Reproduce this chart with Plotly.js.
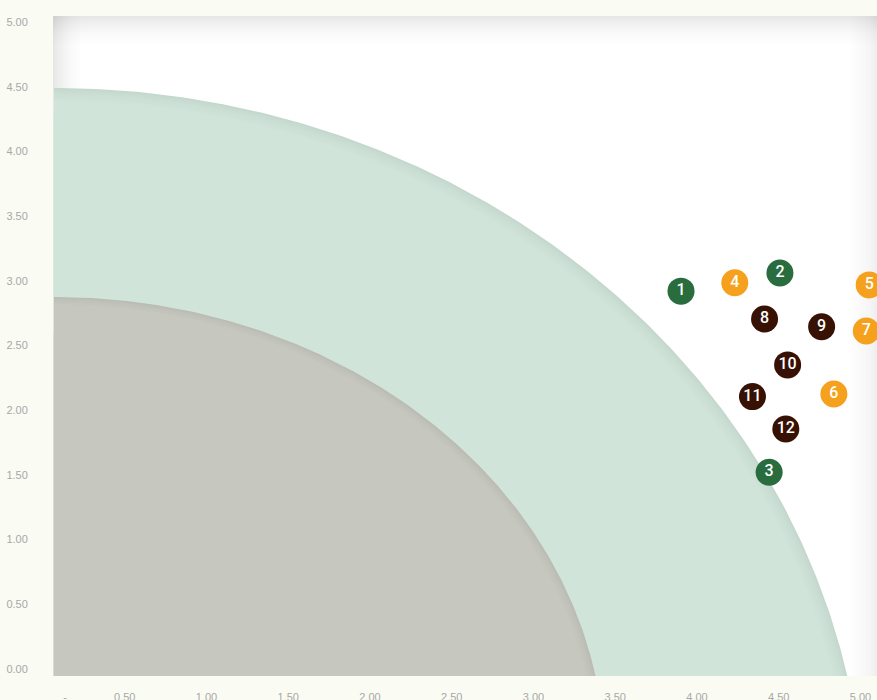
<!DOCTYPE html>
<html>
<head>
<meta charset="utf-8">
<script src="https://cdn.plot.ly/plotly-3.0.1.min.js"></script>
<style>
  html, body { margin: 0; padding: 0; background: #fafbf3; }
  #chart { width: 877px; height: 700px; }
</style>
</head>
<body>
<div id="chart"></div>
<script>
// ---- data ----
const xTickVals = [0, 0.5, 1, 1.5, 2, 2.5, 3, 3.5, 4, 4.5, 5];
const xTickText = ['\u2003\u2003\u2003\u2003-', '0.50', '1.00', '1.50', '2.00', '2.50', '3.00', '3.50', '4.00', '4.50', '5.00'];
const yTickVals = [0, 0.5, 1, 1.5, 2, 2.5, 3, 3.5, 4, 4.5, 5];
const yTickText = ['0.00', '0.50', '1.00', '1.50', '2.00', '2.50', '3.00', '3.50', '4.00', '4.50', '5.00'];

const greenLabels = ['1', '2', '3'];
const greenX = [3.835, 4.440, 4.374];
const greenY = [2.920, 3.060, 1.520];

const orangeLabels = ['4', '5', '6', '7'];
const orangeX = [4.164, 4.986, 4.770, 4.968];
const orangeY = [2.985, 2.968, 2.125, 2.612];

const brownLabels = ['8', '9', '10', '11', '12'];
const brownX = [4.346, 4.695, 4.487, 4.272, 4.476];
const brownY = [2.705, 2.645, 2.350, 2.105, 1.855];

// zones (quarter ellipses anchored on the y axis)
const zoneSemiX = [4.96, 3.368];
const zoneSemiY = [5.734, 3.578];
const zoneCenterY = [-1.244, -0.703];

// ---- styling / layout ----
const X_RANGE = [-0.006, 5.0337];
const Y_RANGE = [-0.054, 5.046];
const zoneRim = [[196, 216, 205], [186, 188, 179]];
const zoneMain = [[209, 228, 218], [198, 200, 192]];
const RIM_LAYERS = 8;

function zoneTrace(a, b, cy, color) {
  const ymin = Y_RANGE[0];
  const xs = [0, 0], ys = [ymin, cy + b];
  const tMin = Math.asin(Math.max(-1, Math.min(1, (ymin - cy) / b)));
  const N = 240;
  for (let i = 0; i <= N; i++) {
    const t = Math.PI / 2 - (Math.PI / 2 - tMin) * i / N;
    xs.push(a * Math.cos(t));
    ys.push(cy + b * Math.sin(t));
  }
  xs.push(0); ys.push(ymin);
  return {
    type: 'scatter', mode: 'lines', x: xs, y: ys,
    fill: 'toself', fillcolor: color, line: { width: 0, color: color },
    hoverinfo: 'skip', showlegend: false
  };
}

function mix(c1, c2, f) {
  return 'rgb(' + c1.map((v, i) => Math.round(v + (c2[i] - v) * f)).join(',') + ')';
}

const traces = [];
for (let z = 0; z < zoneSemiX.length; z++) {
  for (let k = 0; k < RIM_LAYERS; k++) {
    const f = k / (RIM_LAYERS - 1);
    const s = 1 - 0.0025 * k;
    traces.push(zoneTrace(zoneSemiX[z] * s, zoneSemiY[z] * s, zoneCenterY[z],
      mix(zoneRim[z], zoneMain[z], Math.pow(f, 0.7))));
  }
}

function pointTrace(xs, ys, labels, color) {
  return {
    type: 'scatter', mode: 'markers+text', x: xs, y: ys, text: labels,
    textposition: 'middle center',
    textfont: { family: 'Roboto, Liberation Sans, Arial, sans-serif', size: 16, color: '#ffffff', weight: 500 },
    marker: { size: 27, color: color, line: { width: 0 } },
    hoverinfo: 'skip', showlegend: false, cliponaxis: false
  };
}
traces.push(pointTrace(greenX, greenY, greenLabels, '#296c3d'));
traces.push(pointTrace(orangeX, orangeY, orangeLabels, '#f5a11d'));
traces.push(pointTrace(brownX, brownY, brownLabels, '#371204'));

// inset shadow strips (paper coords of the plot area)
const PW = 824, PH = 660;
const shapes = [];
const steps = 15;
for (let i = 0; i < steps; i++) {
  const op = 0.02 * (1 - i / steps);
  const col = 'rgba(120,120,120,' + op.toFixed(4) + ')';
  const colR = 'rgba(120,120,120,' + (op * 0.6).toFixed(4) + ')';
  shapes.push({ type: 'rect', xref: 'paper', yref: 'paper', layer: 'below',
    x0: 0, x1: 1, y0: 1 - (i + 1) * 2 / PH, y1: 1, fillcolor: col, line: { width: 0 } });
  shapes.push({ type: 'rect', xref: 'paper', yref: 'paper', layer: 'below',
    x0: 0, x1: (i + 1) * 2 / PW, y0: 0, y1: 1, fillcolor: col, line: { width: 0 } });
  shapes.push({ type: 'rect', xref: 'paper', yref: 'paper', layer: 'below',
    x0: 1 - (i + 1) * 2 / PW, x1: 1, y0: 0, y1: 1, fillcolor: colR, line: { width: 0 } });
}

const axisFont = { family: 'Liberation Sans, Arial, sans-serif', size: 11, color: '#a8a8a8' };

const layout = {
  width: 877, height: 700,
  margin: { l: 53, r: 0, t: 16, b: 24 },
  paper_bgcolor: '#fafbf3',
  plot_bgcolor: '#ffffff',
  showlegend: false,
  xaxis: {
    range: X_RANGE, tickmode: 'array', tickvals: xTickVals, ticktext: xTickText,
    showgrid: false, zeroline: false, showline: false,
    ticks: 'outside', ticklen: 11, tickcolor: 'rgba(0,0,0,0)',
    ticklabelshift: -11,
    tickfont: axisFont, fixedrange: true
  },
  yaxis: {
    range: Y_RANGE, tickmode: 'array', tickvals: yTickVals, ticktext: yTickText,
    showgrid: false, zeroline: false, showline: false,
    ticks: 'outside', ticklen: 22, tickcolor: 'rgba(0,0,0,0)',
    tickfont: axisFont, fixedrange: true
  },
  shapes: shapes
};

Plotly.newPlot('chart', traces, layout, { displayModeBar: false, staticPlot: true });
</script>
</body>
</html>
